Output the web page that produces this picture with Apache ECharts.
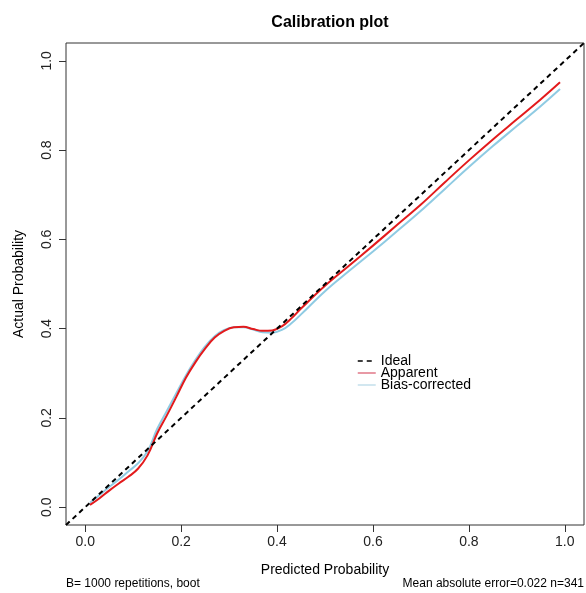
<!DOCTYPE html>
<html>
<head>
<meta charset="utf-8">
<title>Calibration plot</title>
<script src="https://cdn.jsdelivr.net/npm/echarts@6.0.0/dist/echarts.min.js"></script>
<style>
  html, body { margin: 0; padding: 0; background: #fff; }
  #chart { width: 586px; height: 593px; }
</style>
</head>
<body>
<div id="chart"></div>
<script>
// 数据
const predicted = [0.01, 0.03, 0.05, 0.07, 0.09, 0.11, 0.13, 0.15, 0.17, 0.19, 0.21, 0.23, 0.25, 0.27, 0.29,
  0.31, 0.33, 0.35, 0.37, 0.39, 0.41, 0.43, 0.45, 0.5, 0.55, 0.6, 0.65, 0.7, 0.75, 0.8, 0.85, 0.9, 0.95, 0.99];
const apparent = [0.005, 0.02, 0.037, 0.053, 0.068, 0.086, 0.116, 0.165, 0.205, 0.247, 0.29, 0.325, 0.355, 0.38, 0.395,
  0.403, 0.404, 0.399, 0.395, 0.396, 0.405, 0.423, 0.445, 0.496, 0.541, 0.586, 0.632, 0.678, 0.728, 0.777, 0.824, 0.869, 0.914, 0.952];
const biasCorrected = [0.01, 0.027, 0.045, 0.062, 0.08, 0.098, 0.125, 0.175, 0.215, 0.255, 0.295, 0.33, 0.36, 0.383, 0.397,
  0.403, 0.403, 0.398, 0.392, 0.391, 0.397, 0.412, 0.432, 0.484, 0.529, 0.573, 0.618, 0.664, 0.713, 0.762, 0.809, 0.854, 0.899, 0.937];
const idealLine = [-0.04, 1.04];
const tickValues = [0, 0.2, 0.4, 0.6, 0.8, 1.0];

const FONT = '"Liberation Sans", Arial, sans-serif';
const AXIS_COLOR = '#333';
const RED = '#e31a1c';
const BLUE = '#8fcbe3';

function pairs(xs, ys) {
  return xs.map((x, i) => [x, ys[i]]);
}

function makeAxis(name, isY) {
  return {
    type: 'value',
    min: -0.04,
    max: 1.04,
    name: name,
    nameLocation: 'middle',
    nameGap: isY ? 40 : 38,
    nameTextStyle: { fontFamily: FONT, fontSize: 14, color: '#000' },
    splitLine: { show: false },
    axisLine: { show: false, onZero: false },
    axisTick: {
      show: true,
      inside: false,
      length: 7,
      customValues: tickValues,
      lineStyle: { color: AXIS_COLOR, width: 1 }
    },
    axisLabel: {
      customValues: tickValues,
      formatter: v => v.toFixed(1),
      rotate: isY ? 90 : 0,
      margin: isY ? 12 : 10,
      fontFamily: FONT,
      fontSize: 14,
      color: '#222'
    }
  };
}

const chart = echarts.init(document.getElementById('chart'), null, { renderer: 'canvas' });

chart.setOption({
  animation: false,
  backgroundColor: '#fff',
  title: {
    text: 'Calibration plot',
    left: 325,
    textAlign: 'center',
    top: 10,
    textStyle: { fontFamily: FONT, fontSize: 16, fontWeight: 'bold', color: '#000' }
  },
  grid: {
    left: 66,
    right: 2,
    top: 43,
    bottom: 68,
    show: true,
    borderColor: AXIS_COLOR,
    borderWidth: 1,
    backgroundColor: 'transparent'
  },
  xAxis: makeAxis('Predicted Probability', false),
  yAxis: makeAxis('Actual Probability', true),
  legend: {
    orient: 'vertical',
    left: 357,
    top: 354,
    itemWidth: 18,
    itemHeight: 12,
    itemGap: -2,
    padding: 0,
    itemStyle: { opacity: 0 },
    textStyle: { fontFamily: FONT, fontSize: 14, color: '#000', lineHeight: 12 },
    data: [
      { name: 'Ideal', lineStyle: { color: '#000', width: 1.5 } },
      { name: 'Apparent', lineStyle: { color: '#d9556a', width: 1.2 } },
      { name: 'Bias-corrected', lineStyle: { color: '#b5d8e6', width: 1.2 } }
    ]
  },
  graphic: [
    {
      type: 'text', left: 66, top: 578,
      style: { text: 'B= 1000 repetitions, boot', fontFamily: FONT, fontSize: 12, fill: '#000' }
    },
    {
      type: 'text', right: 2, top: 578,
      style: { text: 'Mean absolute error=0.022 n=341', fontFamily: FONT, fontSize: 12, fill: '#000' }
    }
  ],
  series: [
    {
      name: 'Bias-corrected',
      type: 'line',
      data: pairs(predicted, biasCorrected),
      smooth: 0.4,
      symbol: 'none',
      lineStyle: { color: BLUE, width: 2 },
      itemStyle: { color: BLUE },
      z: 2
    },
    {
      name: 'Apparent',
      type: 'line',
      data: pairs(predicted, apparent),
      smooth: 0.4,
      symbol: 'none',
      lineStyle: { color: RED, width: 2 },
      itemStyle: { color: RED },
      z: 3
    },
    {
      name: 'Ideal',
      type: 'line',
      data: pairs(idealLine, idealLine),
      symbol: 'none',
      lineStyle: { color: '#000', width: 2, type: [5, 4] },
      itemStyle: { color: '#000' },
      z: 4
    }
  ]
});
</script>
</body>
</html>
